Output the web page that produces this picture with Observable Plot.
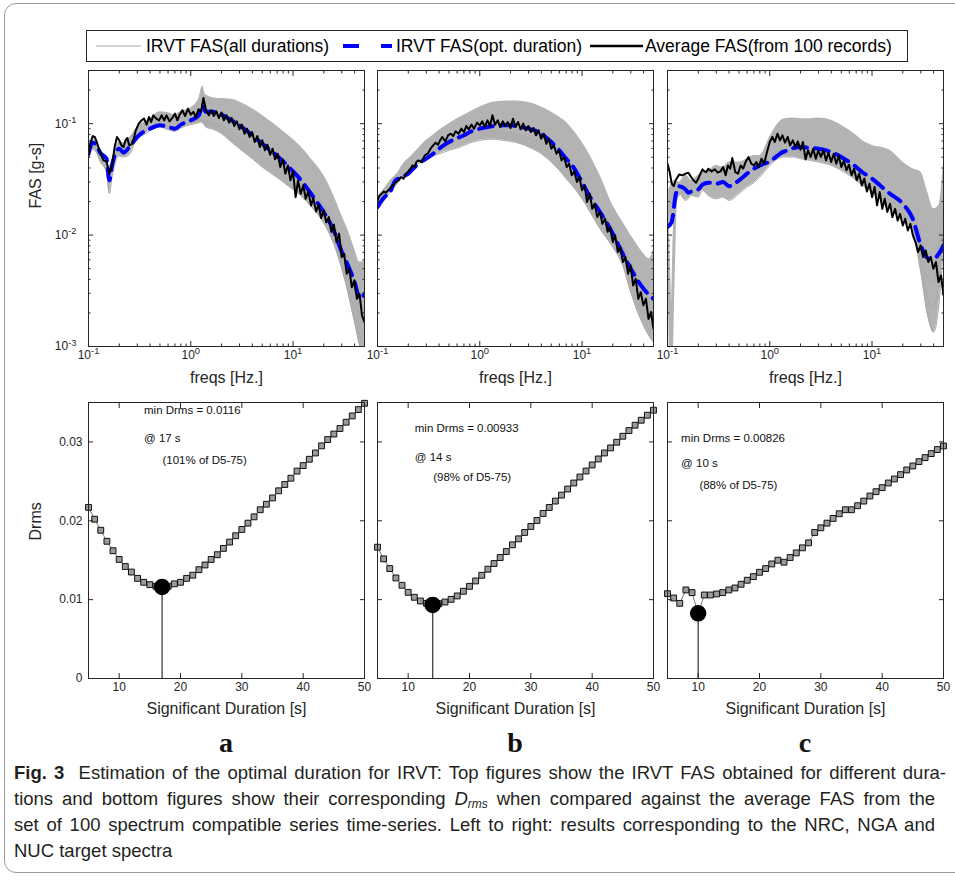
<!DOCTYPE html>
<html><head><meta charset="utf-8">
<script src="https://cdn.jsdelivr.net/npm/d3@7"></script>
<script src="https://cdn.jsdelivr.net/npm/@observablehq/plot@0.6"></script>
<style>
html,body{margin:0;padding:0;background:#fff}
body{width:955px;height:880px;overflow:hidden;position:relative;font-family:"Liberation Sans",Arial,Helvetica,sans-serif;color:#262626}
.abs{position:absolute}
.cap{position:absolute;left:14px;top:760px;font-family:"Liberation Sans",Arial,sans-serif;font-size:18.5px;line-height:26px;color:#231f20}
.cap .ln{display:block;white-space:nowrap;height:26px}
.cap .ln span.in{display:inline-block;white-space:nowrap;transform-origin:left center}
.cap sub{font-size:12px;line-height:0;vertical-align:-3px}
.frame-box{position:absolute;left:4px;top:3px;width:1000px;height:870px;border:1px solid #9a9a9a;border-radius:12px;box-sizing:border-box}
</style></head>
<body>
<div class="frame-box"></div>
<svg id="chrome" class="abs" style="left:0;top:0" width="955" height="880"></svg>
<div id="plots"></div>
<div class="cap">
  <div class="ln"><span class="in" data-w="930"><b>Fig. 3</b>&nbsp; Estimation of the optimal duration for IRVT: Top figures show the IRVT FAS obtained for different dura-</span></div>
  <div class="ln"><span class="in" data-w="921">tions and bottom figures show their corresponding <i>D</i><sub><i>rms</i></sub> when compared against the average FAS from the</span></div>
  <div class="ln"><span class="in" data-w="921">set of 100 spectrum compatible series time-series. Left to right: results corresponding to the NRC, NGA and</span></div>
  <div class="ln"><span class="in">NUC target spectra</span></div>
</div>
<script>
// ---------------- DATA ----------------
const PANEL_LETTERS = ["a", "b", "c"];
const LEGEND_LABELS = ["IRVT FAS(all durations)", "IRVT FAS(opt. duration)", "Average FAS(from 100 records)"];

// frequency grids (Hz)
const FREQ = [0.1,0.11,0.12,0.13,0.15,0.16,0.17,0.2,0.22,0.25,0.3,0.35,0.4,0.5,0.6,0.7,0.8,1,1.2,1.3,1.4,1.7,2,2.5,3,4,5,6,7,8,10,12,15,20,25,30,35,40,45,50];
const FREQ_HI = [1,1.2,1.4,1.7,2,2.5,3,4,5,6,7,8,10,12,15,20,25,30,35,40,45,50];
const FREQ_DIP = [0.1,0.104,0.108,0.112,0.12,0.13];
const FREQ_AVG = [0.1,0.105,0.11,0.115,0.12,0.13,0.14,0.15,0.16,0.17,0.18,0.19,0.2,0.21,0.22,0.23,0.24,0.25,0.27,0.29,0.31,0.33,0.35,0.37,0.39,0.41,0.43,0.46,0.49,0.52,0.55,0.58,0.62,0.66,0.7,0.74,0.78,0.83,0.88,0.94,1.0,
  1.06,1.12,1.19,1.26,1.33,1.41,1.5,1.58,1.68,1.78,1.88,2.0,2.11,2.24,2.37,2.51,2.66,2.82,2.99,3.16,3.35,3.55,3.76,3.98,4.22,4.47,4.73,5.01,5.31,5.62,5.96,6.31,6.68,7.08,7.5,7.94,8.41,8.91,9.44,10,
  10.6,11.2,11.9,12.6,13.3,14.1,15,15.8,16.8,17.8,18.8,20,21.1,22.4,23.7,25.1,26.6,28.2,29.9,31.6,33.5,35.5,37.6,39.8,42.2,44.7,47.3,50];

// Panel a (NRC)
const UPPER_A = [0.0617,0.0723,0.0693,0.0596,0.0502,0.0422,0.0478,0.0693,0.0675,0.0744,0.0934,0.1035,0.1109,0.1276,0.1256,0.1205,0.1290,0.1383,0.1680,0.2180,0.1821,0.1702,0.1680,0.1655,0.1565,0.1364,0.1188,0.1049,0.0946,0.0853,0.0723,0.0617,0.0485,0.0344,0.0227,0.0150,0.0107,0.00754,0.00573,0.00592];
const LOWER_A = [0.0491,0.0588,0.0549,0.0458,0.0368,0.0235,0.0332,0.0512,0.0502,0.0526,0.0744,0.0795,0.0871,0.0934,0.0883,0.0853,0.0915,0.0980,0.1021,0.1049,0.0934,0.0883,0.0813,0.0684,0.0596,0.0485,0.0408,0.0363,0.0328,0.0300,0.0256,0.0224,0.0181,0.0128,0.00836,0.00499,0.00287,0.00164,0.00101,0.0008];
const OPT_A = [0.0537,0.0675,0.0638,0.0549,0.0485,0.0310,0.0422,0.0596,0.0549,0.0617,0.0759,0.0853,0.0902,0.0966,0.0934,0.0902,0.0980,0.1071,0.1188,0.1462,0.1276,0.1276,0.1205,0.1071,0.0966,0.0786,0.0661,0.0576,0.0512,0.0458,0.0373,0.0310,0.0235,0.0160,0.0110,0.00706,0.00516,0.00379,0.00268,0.00297];
const AVG_A = [0.0519,0.0684,0.0774,0.0759,0.0693,0.0549,0.0468,0.0458,0.0356,0.0422,0.0617,0.0759,0.0708,0.0638,0.0617,0.0708,0.0744,0.0638,0.0661,0.0871,0.1,0.1071,0.1109,0.0980,0.1148,0.1035,0.1188,0.1109,0.1071,0.1188,0.1071,0.1188,0.1049,0.1125,0.1230,0.1071,0.1205,0.1318,0.1170,0.1364,0.1205,
  0.1276,0.1148,0.1346,0.1276,0.1702,0.1318,0.1188,0.1318,0.1170,0.1290,0.1125,0.1256,0.1071,0.1188,0.1021,0.1125,0.0953,0.1049,0.0890,0.0980,0.0813,0.0900,0.0759,0.0841,0.0684,0.0774,0.0617,0.0708,0.0576,0.0647,0.0526,0.0596,0.0478,0.0537,0.0408,0.0478,0.0356,0.0422,0.0310,0.0373,
  0.0219,0.0310,0.0235,0.0280,0.0212,0.0247,0.0184,0.0215,0.0163,0.0187,0.0142,0.0167,0.0130,0.0145,0.0107,0.0124,0.00866,0.0103,0.00634,0.00680,0.00450,0.00499,0.00341,0.00392,0.00268,0.00297,0.00190,0.00165];
const LINES_A = [
  [0.100,0.105,0.0966,0.0928,0.0853,0.0723,0.0630,0.0519,0.0440,0.0389,0.0351,0.0321,0.0275,0.0240,0.0198,0.0142,0.00941,0.00572,0.00341,0.00204,0.00125,0.00102],
  [0.1021,0.1071,0.0993,0.0960,0.0890,0.0764,0.0666,0.0556,0.0475,0.0416,0.0376,0.0344,0.0295,0.0257,0.0215,0.0155,0.0105,0.00657,0.00405,0.00250,0.00154,0.00125],
  [0.1035,0.1094,0.1021,0.0993,0.0928,0.0808,0.0703,0.0592,0.0508,0.0446,0.0403,0.0368,0.0317,0.0277,0.0232,0.0170,0.0116,0.00754,0.00482,0.00303,0.00190,0.00154],
  [0.1049,0.1109,0.1049,0.1028,0.0966,0.0853,0.0743,0.0630,0.0545,0.0478,0.0431,0.0394,0.0339,0.0299,0.0250,0.0185,0.0129,0.00866,0.00564,0.00366,0.00234,0.00190]
];

// Panel b (NGA)
const UPPER_B = [0.0219,0.0243,0.0270,0.0299,0.0344,0.0368,0.0408,0.0485,0.0526,0.0596,0.0708,0.0786,0.0871,0.1,0.1109,0.1188,0.1273,0.1412,0.1512,0.1545,0.1566,0.1588,0.1599,0.1588,0.1545,0.1412,0.1273,0.1148,0.1035,0.0902,0.0684,0.0519,0.0344,0.0185,0.0131,0.00994,0.00808,0.00680,0.00613,0.00728];
const LOWER_B = [0.0172,0.0191,0.0212,0.0235,0.0279,0.0299,0.0321,0.0373,0.0399,0.0437,0.0478,0.0512,0.0537,0.0576,0.0604,0.0638,0.0670,0.0708,0.0723,0.0723,0.0723,0.0708,0.0693,0.0661,0.0617,0.0537,0.0452,0.0381,0.0321,0.0279,0.0212,0.0161,0.0114,0.00780,0.00534,0.00307,0.00204,0.00154,0.00125,0.00109];
const OPT_B = [0.0178,0.0205,0.0224,0.0235,0.0310,0.0321,0.0332,0.0356,0.0389,0.0437,0.0485,0.0537,0.0596,0.0684,0.0743,0.0786,0.0841,0.0902,0.0934,0.0947,0.0953,0.0966,0.0966,0.0934,0.0902,0.0813,0.0684,0.0576,0.0485,0.0422,0.0299,0.0219,0.0161,0.0103,0.00680,0.00499,0.00392,0.00330,0.00291,0.00268];
const AVG_B = [0.0205,0.0227,0.0235,0.0246,0.0240,0.0257,0.0279,0.0295,0.0310,0.0332,0.0321,0.0356,0.0373,0.0394,0.0422,0.0408,0.0452,0.0468,0.0452,0.0519,0.0537,0.0596,0.0638,0.0675,0.0647,0.0708,0.0759,0.0693,0.0786,0.0813,0.0775,0.0853,0.0813,0.0902,0.0841,0.0953,0.0890,0.0980,0.0902,0.1021,0.0966,
  0.1049,0.0934,0.1071,0.0953,0.1188,0.0980,0.1071,0.0934,0.1049,0.0953,0.1035,0.0915,0.1109,0.0934,0.1035,0.0890,0.1,0.0871,0.0953,0.0841,0.0915,0.0786,0.0871,0.0733,0.0813,0.0661,0.0733,0.0596,0.0638,0.0537,0.0576,0.0468,0.0502,0.0408,0.0437,0.0344,0.0373,0.0299,0.0332,0.0252,
  0.0279,0.0198,0.0235,0.0172,0.0191,0.0145,0.0161,0.0126,0.0140,0.0107,0.0118,0.00866,0.00994,0.00704,0.00780,0.00572,0.00634,0.00450,0.00534,0.00353,0.00405,0.00268,0.00307,0.00234,0.00268,0.00177,0.00204,0.00144];
const LINES_B = [
  [0.0743,0.0759,0.0759,0.0743,0.0728,0.0693,0.0647,0.0572,0.0485,0.0411,0.0349,0.0303,0.0232,0.0178,0.0128,0.00878,0.00604,0.00366,0.00242,0.00179,0.00144,0.00125],
  [0.0775,0.0791,0.0791,0.0775,0.0759,0.0728,0.0679,0.0604,0.0515,0.0440,0.0376,0.0327,0.0252,0.0195,0.0142,0.00980,0.00680,0.00428,0.00287,0.00211,0.00165,0.00144],
  [0.0808,0.0824,0.0824,0.0808,0.0791,0.0759,0.0713,0.0638,0.0549,0.0472,0.0405,0.0353,0.0274,0.0213,0.0156,0.0109,0.00764,0.00499,0.00341,0.00247,0.00190,0.00171],
  [0.0841,0.0859,0.0859,0.0841,0.0824,0.0791,0.0748,0.0675,0.0584,0.0505,0.0437,0.0381,0.0297,0.0233,0.0172,0.0120,0.00854,0.00572,0.00405,0.00287,0.00221,0.00204]
];

// Panel c (NUC)
const UPPER_C = [0.0243,0.0289,0.0310,0.0299,0.0344,0.0332,0.0310,0.0344,0.0368,0.0381,0.0422,0.0408,0.0452,0.0452,0.0485,0.0519,0.0519,0.0759,0.1,0.1071,0.1109,0.1125,0.1109,0.1109,0.1125,0.1071,0.0966,0.0871,0.0786,0.0708,0.0638,0.0617,0.0576,0.0452,0.0394,0.0368,0.0243,0.0172,0.0185,0.0452];
const LOWER_C = [0.0115,0.0125,0.0219,0.0235,0.0205,0.0212,0.0227,0.0219,0.0252,0.0227,0.0212,0.0219,0.0205,0.0235,0.0270,0.0295,0.0332,0.0422,0.0485,0.0498,0.0502,0.0502,0.0485,0.0468,0.0452,0.0422,0.0381,0.0344,0.0310,0.0279,0.0243,0.0212,0.0172,0.0140,0.0107,0.00465,0.00190,0.00134,0.00234,0.00808];
const OPT_C = [0.0118,0.0131,0.0227,0.0275,0.0257,0.0240,0.0246,0.0257,0.0283,0.0295,0.0289,0.0299,0.0275,0.0310,0.0356,0.0394,0.0422,0.0458,0.0519,0.0549,0.0564,0.0604,0.0617,0.0604,0.0596,0.0556,0.0502,0.0452,0.0408,0.0368,0.0321,0.0279,0.0235,0.0191,0.0140,0.00808,0.00621,0.00613,0.00680,0.00808];
const AVG_C = [0.0437,0.0368,0.0289,0.0275,0.0310,0.0349,0.0344,0.0356,0.0363,0.0332,0.0310,0.0295,0.0321,0.0356,0.0389,0.0373,0.0368,0.0394,0.0373,0.0389,0.0363,0.0373,0.0408,0.0344,0.0422,0.0394,0.0491,0.0368,0.0356,0.0422,0.0394,0.0452,0.0502,0.0437,0.0422,0.0452,0.0408,0.0485,0.0437,0.0556,0.0684,
  0.0759,0.0684,0.0813,0.0708,0.0786,0.0675,0.0759,0.0638,0.0708,0.0617,0.0693,0.0584,0.0684,0.0478,0.0576,0.0502,0.0596,0.0485,0.0576,0.0502,0.0576,0.0468,0.0549,0.0452,0.0537,0.0437,0.0512,0.0408,0.0468,0.0381,0.0428,0.0344,0.0394,0.0310,0.0356,0.0279,0.0321,0.0246,0.0289,0.0219,
  0.0270,0.0185,0.0243,0.0172,0.0212,0.0161,0.0191,0.0145,0.0172,0.0135,0.0155,0.0122,0.0140,0.0110,0.0126,0.00994,0.00866,0.00704,0.00808,0.00634,0.00728,0.00572,0.00634,0.00499,0.00572,0.00379,0.00434,0.00287];
const LINES_C = [
  [0.0446,0.0512,0.0526,0.0526,0.0512,0.0495,0.0478,0.0446,0.0405,0.0368,0.0332,0.0299,0.0252,0.0224,0.0185,0.0155,0.0122,0.00572,0.00268,0.00218,0.00379,0.0107],
  [0.0468,0.0537,0.0552,0.0552,0.0537,0.0519,0.0502,0.0472,0.0431,0.0391,0.0356,0.0321,0.0270,0.0240,0.0205,0.0172,0.0140,0.00754,0.00405,0.00379,0.00572,0.0140],
  [0.0491,0.0564,0.0580,0.0580,0.0564,0.0545,0.0526,0.0498,0.0458,0.0416,0.0381,0.0344,0.0289,0.0257,0.0224,0.0191,0.0161,0.00994,0.00572,0.00534,0.00808,0.0185]
];
const DIP_C = [0.0118,0.0030,0.0007,0.0025,0.0205,0.0235];

// Bottom panels: Drms vs significant duration
const DURATION = [5,6,7,8,9,10,11,12,13,14,15,16,17,18,19,20,21,22,23,24,25,26,27,28,29,30,31,32,33,34,35,36,37,38,39,40,41,42,43,44,45,46,47,48,49,50];
const DRMS_A = [0.0217,0.0202,0.0188,0.0174,0.0162,0.0151,0.0142,0.0135,0.0127,0.0122,0.0119,0.0117,0.0116,0.0117,0.0120,0.0122,0.0127,0.0131,0.0138,0.0144,0.0151,0.0157,0.0165,0.0173,0.0181,0.0189,0.0197,0.0205,0.0214,0.0221,0.0229,0.0238,0.0246,0.0254,0.0263,0.0270,0.0278,0.0286,0.0295,0.0303,0.0310,0.0317,0.0325,0.0333,0.0341,0.0349];
const DRMS_B = [0.01665,0.01517,0.01394,0.01275,0.01182,0.01093,0.0103,0.00983,0.00953,0.00933,0.00949,0.0097,0.01004,0.01047,0.01106,0.01169,0.01237,0.01309,0.01386,0.01458,0.01534,0.0161,0.01695,0.01771,0.01852,0.01928,0.02004,0.02093,0.02169,0.0225,0.02326,0.02403,0.02479,0.02555,0.02631,0.02708,0.02784,0.0286,0.02924,0.02996,0.03072,0.03144,0.03212,0.03275,0.03339,0.03403];
const DRMS_C = [0.01076,0.01021,0.00953,0.01123,0.01089,0.00826,0.01059,0.01059,0.01072,0.01089,0.01123,0.01148,0.01195,0.01246,0.01292,0.01347,0.01394,0.01453,0.015,0.01475,0.01534,0.01593,0.01657,0.0172,0.01852,0.01911,0.0197,0.0203,0.02089,0.0214,0.0214,0.02191,0.0225,0.02314,0.02369,0.0242,0.02479,0.0253,0.02585,0.02644,0.02695,0.0275,0.02801,0.02852,0.02903,0.02949];
const BEST_DUR = [17, 14, 10];
const BEST_DRMS = [0.0116, 0.00933, 0.00826];
const NOTE_TEXT = [
  ["min Drms = 0.0116", "@ 17 s", "(101% of D5-75)"],
  ["min Drms = 0.00933", "@ 14 s", "(98% of D5-75)"],
  ["min Drms = 0.00826", "@ 10 s", "(88% of D5-75)"]
];
const NOTE_X = [[14.05, 14.05, 17.06], [11.08, 11.08, 14.08], [7.22, 7.22, 10.2]];
const NOTE_Y = [[0.0340, 0.0304, 0.02765], [0.03167, 0.02807, 0.02553], [0.0304, 0.02723, 0.02447]];

// Tick values
const LOG_X_MAJOR = [0.1, 1, 10];
const LOG_X_MINOR = [0.2,0.3,0.4,0.5,0.6,0.7,0.8,0.9,2,3,4,5,6,7,8,9,20,30,40];
const LOG_Y_MAJOR = [0.001, 0.01, 0.1];
const LOG_Y_MINOR = [0.002,0.003,0.004,0.005,0.006,0.007,0.008,0.009,0.02,0.03,0.04,0.05,0.06,0.07,0.08,0.09,0.2,0.3];
const DUR_TICKS = [10, 20, 30, 40, 50];
const DRMS_TICKS = [0, 0.01, 0.02, 0.03];

// ---------------- LAYOUT / RENDER ----------------
const UPPER = [UPPER_A, UPPER_B, UPPER_C];
const LOWER = [LOWER_A, LOWER_B, LOWER_C];
const OPT = [OPT_A, OPT_B, OPT_C];
const AVG = [AVG_A, AVG_B, AVG_C];
const LINES = [LINES_A, LINES_B, LINES_C];
const DRMS = [DRMS_A, DRMS_B, DRMS_C];

const FRAME_LEFT = [88, 377, 667];
const FW = 276, FH = 276;
const TOP_Y = 70, BOT_Y = 402;
const INK = "#262626";
const none = () => "";
const fmtPow = d => "10^" + Math.round(Math.log10(d));

function boxAxes(xMaj, xMin, yMaj, yMin, xFmt, yFmt, yPad) {
  const m = [
    Plot.axisX({ticks: xMaj, anchor: "bottom", tickSize: -5, tickPadding: 9, tickFormat: xFmt, label: null, stroke: INK}),
    Plot.axisX({ticks: xMaj, anchor: "top", tickSize: -5, tickFormat: none, label: null, stroke: INK}),
    Plot.axisY({ticks: yMaj, anchor: "left", tickSize: -5, tickPadding: yPad, tickFormat: yFmt, label: null, stroke: INK}),
    Plot.axisY({ticks: yMaj, anchor: "right", tickSize: -5, tickFormat: none, label: null, stroke: INK})
  ];
  if (xMin) m.push(
    Plot.axisX({ticks: xMin, anchor: "bottom", tickSize: -2.5, tickFormat: none, label: null, stroke: INK}),
    Plot.axisX({ticks: xMin, anchor: "top", tickSize: -2.5, tickFormat: none, label: null, stroke: INK}));
  if (yMin) m.push(
    Plot.axisY({ticks: yMin, anchor: "left", tickSize: -2.5, tickFormat: none, label: null, stroke: INK}),
    Plot.axisY({ticks: yMin, anchor: "right", tickSize: -2.5, tickFormat: none, label: null, stroke: INK}));
  return m;
}

function place(svg, left, top, w) {
  const d = document.createElement("div");
  d.className = "abs";
  d.style.left = left + "px"; d.style.top = top + "px"; d.style.width = w + "px";
  d.appendChild(svg);
  document.getElementById("plots").appendChild(d);
  // superscript exponents on log tick labels
  svg.querySelectorAll("text").forEach(t => {
    const m = /^10\^(-?\d+)$/.exec(t.textContent);
    if (m) {
      t.textContent = "10";
      const s = document.createElementNS("http://www.w3.org/2000/svg", "tspan");
      s.setAttribute("dy", "-0.5em");
      s.setAttribute("font-size", "0.78em");
      s.textContent = m[1];
      t.appendChild(s);
    }
  });
}

function fasPanel(k) {
  const first = k === 0;
  const ML = first ? 70 : 14, MR = 14, MT = 8, MB = 50;
  const band = FREQ.map((f, i) => ({f, lo: LOWER[k][i], hi: UPPER[k][i]}));
  const opt = FREQ.map((f, i) => ({f, v: OPT[k][i]}));
  const avg = FREQ_AVG.map((f, i) => ({f, v: AVG[k][i]}));
  const extra = LINES[k].flatMap((arr, j) => FREQ_HI.map((f, i) => ({f, v: arr[i], id: j})));
  const marks = [
    Plot.areaY(band, {x: "f", y1: "lo", y2: "hi", fill: "#b3b3b3", curve: "monotone-x", clip: true}),
    Plot.line(band, {x: "f", y: "lo", stroke: "#a8a8a8", strokeWidth: 1, curve: "monotone-x", clip: true}),
    Plot.line(extra, {x: "f", y: "v", z: "id", stroke: "#a8a8a8", strokeWidth: 0.9, curve: "monotone-x", clip: true})
  ];
  if (k === 2) {
    const dip = FREQ_DIP.map((f, i) => ({f, v: DIP_C[i]}));
    marks.push(Plot.line(dip, {x: "f", y: "v", stroke: "#b3b3b3", strokeWidth: 3, curve: "monotone-x", clip: true}));
  }
  marks.push(
    Plot.line(opt, {x: "f", y: "v", stroke: "#0000ff", strokeWidth: 4, strokeDasharray: "14,8", curve: "monotone-x", clip: true}),
    Plot.line(avg, {x: "f", y: "v", stroke: "#000", strokeWidth: 2, clip: true}),
    Plot.frame({stroke: INK}),
    ...boxAxes(LOG_X_MAJOR, LOG_X_MINOR, LOG_Y_MAJOR, LOG_Y_MINOR, fmtPow, first ? fmtPow : none, 17),
    Plot.text(["freqs [Hz.]"], {frameAnchor: "bottom", dy: 36, fontSize: 16, fill: INK})
  );
  if (first) marks.push(Plot.text(["FAS [g-s]"], {frameAnchor: "left", dx: -53, rotate: -90, fontSize: 16, fill: INK}));
  const svg = Plot.plot({
    width: ML + FW + MR, height: MT + FH + MB,
    marginLeft: ML, marginRight: MR, marginTop: MT, marginBottom: MB,
    x: {type: "log", domain: [0.1, 50], label: null},
    y: {type: "log", domain: [0.001, 0.3], label: null},
    style: {background: "transparent", fontFamily: "'Liberation Sans', Arial, sans-serif", fontSize: "12px", color: INK, maxWidth: "none"},
    marks
  });
  place(svg, FRAME_LEFT[k] - ML, TOP_Y - MT, ML + FW + MR);
}

function drmsPanel(k) {
  const first = k === 0;
  const ML = first ? 70 : 14, MR = 14, MT = 8, MB = 50;
  const rows = DURATION.map((d, i) => ({d, v: DRMS[k][i]}));
  const best = [{d: BEST_DUR[k], v: BEST_DRMS[k]}];
  const notes = NOTE_TEXT[k].map((t, i) => ({t, x: NOTE_X[k][i], y: NOTE_Y[k][i]}));
  const marks = [
    Plot.ruleX(best, {x: "d", y1: 0, y2: "v", stroke: "#333", strokeWidth: 1.2}),
    Plot.line(rows, {x: "d", y: "v", stroke: "#555", strokeWidth: 0.8}),
    Plot.dot(rows, {x: "d", y: "v", symbol: "square", r: 3.3, fill: "#9a9a9a", stroke: "#111", strokeWidth: 1}),
    Plot.dot(best, {x: "d", y: "v", r: 7.5, fill: "#000", stroke: "#000"}),
    Plot.text(notes, {x: "x", y: "y", text: "t", textAnchor: "start", fontSize: 11.5, fill: "#111"}),
    Plot.frame({stroke: INK}),
    ...boxAxes(DUR_TICKS, null, DRMS_TICKS, null, d => String(d), first ? (d => String(d)) : none, 11),
    Plot.text(["Significant Duration [s]"], {frameAnchor: "bottom", dy: 35, fontSize: 16, fill: INK})
  ];
  if (first) marks.push(Plot.text(["Drms"], {frameAnchor: "left", dx: -53, rotate: -90, fontSize: 16, fill: INK}));
  const svg = Plot.plot({
    width: ML + FW + MR, height: MT + FH + MB,
    marginLeft: ML, marginRight: MR, marginTop: MT, marginBottom: MB,
    x: {domain: [5, 50], label: null},
    y: {domain: [0, 0.035], label: null},
    style: {background: "transparent", fontFamily: "'Liberation Sans', Arial, sans-serif", fontSize: "12px", color: INK, maxWidth: "none"},
    marks
  });
  place(svg, FRAME_LEFT[k] - ML, BOT_Y - MT, ML + FW + MR);
}

[0, 1, 2].forEach(k => { fasPanel(k); drmsPanel(k); });

// legend + panel letters
(function chrome() {
  const ns = "http://www.w3.org/2000/svg";
  const svg = document.getElementById("chrome");
  const el = (tag, attrs, text) => {
    const e = document.createElementNS(ns, tag);
    for (const a in attrs) e.setAttribute(a, attrs[a]);
    if (text != null) e.textContent = text;
    svg.appendChild(e); return e;
  };
  el("rect", {x: 86.5, y: 30.5, width: 821, height: 31, fill: "#fff", stroke: INK, "stroke-width": 1});
  const ly = 46;
  el("line", {x1: 96, x2: 141, y1: ly, y2: ly, stroke: "#aaa", "stroke-width": 1});
  el("text", {x: 146, y: ly, dy: "0.35em", "font-size": 17.5, fill: "#000", "font-family": "Liberation Sans, Arial, sans-serif"}, LEGEND_LABELS[0]);
  el("line", {x1: 343, x2: 392, y1: ly, y2: ly, stroke: "#0000ff", "stroke-width": 4, "stroke-dasharray": "16,22"});
  el("text", {x: 396, y: ly, dy: "0.35em", "font-size": 17.5, fill: "#000", "font-family": "Liberation Sans, Arial, sans-serif"}, LEGEND_LABELS[1]);
  el("line", {x1: 590, x2: 643, y1: ly, y2: ly, stroke: "#000", "stroke-width": 2.5});
  el("text", {x: 645, y: ly, dy: "0.35em", "font-size": 17.5, fill: "#000", "font-family": "Liberation Sans, Arial, sans-serif"}, LEGEND_LABELS[2]);
  PANEL_LETTERS.forEach((L, k) => {
    el("text", {x: FRAME_LEFT[k] + FW / 2, y: 752, "text-anchor": "middle", "font-size": 28, "font-weight": "bold",
      "font-family": "Liberation Serif, Times New Roman, serif", fill: "#111"}, L);
  });
})();

// justify caption lines
document.querySelectorAll(".cap .in").forEach(s => {
  const target = +s.dataset.w;
  if (!target) return;
  const nat = s.getBoundingClientRect().width;
  const spaces = (s.textContent.match(/ /g) || []).length;
  if (nat < target && spaces) s.style.wordSpacing = ((target - nat) / spaces) + "px";
  else if (nat > target) s.style.transform = "scaleX(" + (target / nat) + ")";
});
</script>
</body></html>
